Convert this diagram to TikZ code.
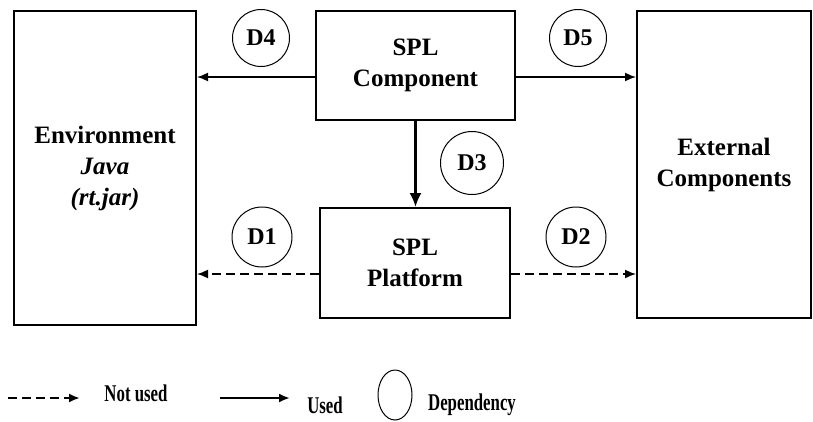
\documentclass[tikz,border=0pt]{standalone}
\usepackage{fontspec}
\setmainfont{Liberation Serif}
\usepackage{tikz}
\usetikzlibrary{positioning, arrows.meta, shapes.geometric}
\tikzset{
>={Latex[length=11pt, width=9pt]}, % filled triangular arrow heads
box/.style={draw, line width=2pt, align=center, font=\fontsize{25}{31}\selectfont\bfseries}, % the component boxes
dep/.style={draw, circle, line width=1pt, minimum size=57pt, inner sep=0pt, font=\fontsize{24}{26}\selectfont\bfseries}, % the dependency circles
used/.style={->, line width=1.6pt}, % a used dependency
notused/.style={->, line width=1.6pt, dash pattern=on 9pt off 5pt}, % a dependency that is not used
keytext/.style={font=\fontsize{24}{26}\selectfont\bfseries}, % legend text
}

\begin{document}
\begin{tikzpicture}[x=1pt, y=-1pt]
  \useasboundingbox (0,0) rectangle (813,421);

  % boxes
  \node[box, minimum width=182pt, minimum height=314pt] (env) at (105,168)
    {Environment\\\textit{Java}\\\textit{(rt.jar)}};
  \node[box, minimum width=199pt, minimum height=109pt] (comp) at (415.5,65.5)
    {SPL\\Component};
  \node[box, minimum width=190pt, minimum height=110pt] (plat) at (415,263)
    {SPL\\Platform};
  \node[box, minimum width=174pt, minimum height=307pt] (ext) at (724,164.5)
    {External\\Components};

  % dependencies
  \node[dep] (d4) at (261,38) {D4};
  \node[dep] (d5) at (578,38) {D5};
  \node[dep, minimum size=63pt] (d3) at (472,163) {D3};
  \node[dep, minimum size=60pt] (d1) at (262,237) {D1};
  \node[dep, minimum size=60pt] (d2) at (576,237) {D2};

  \coordinate (c4) at ([yshift=-11.5pt]comp.west);
  \coordinate (c5) at ([yshift=-11.5pt]comp.east);
  \coordinate (p1) at ([yshift=-11pt]plat.west);
  \coordinate (p2) at ([yshift=-11pt]plat.east);

  \draw[used] (c4) -- (c4 -| env.east);
  \draw[used] (c5) -- (c5 -| ext.west);
  \draw[used, line width=2.2pt, -{Latex[length=14pt, width=12pt]}] (comp.south) -- (comp.south |- plat.north);
  \draw[notused] (p1) -- (p1 -| env.east);
  \draw[notused] (p2) -- (p2 -| ext.west);

  % legend
  \coordinate (k1) at (8,398);
  \coordinate (k2) at (80,398);
  \coordinate (k3) at (220,398);
  \coordinate (k4) at (290,398);
  \draw[notused, line width=2.2pt] (k1) -- (k2);
  \node[keytext] (notusedkey) at (136,393) {\scalebox{0.7}[1]{Not used}};
  \draw[used, line width=2.2pt] (k3) -- (k4);
  \node[keytext] (usedkey) at (325,405) {\scalebox{0.7}[1]{Used}};
  \node[draw, ellipse, line width=1pt, minimum width=34pt, minimum height=50pt] (depkey) at (395,395) {};
  \node[keytext] (depkeytext) at (472,405) {\scalebox{0.7}[1]{Dependency}};
\end{tikzpicture}
\end{document}
